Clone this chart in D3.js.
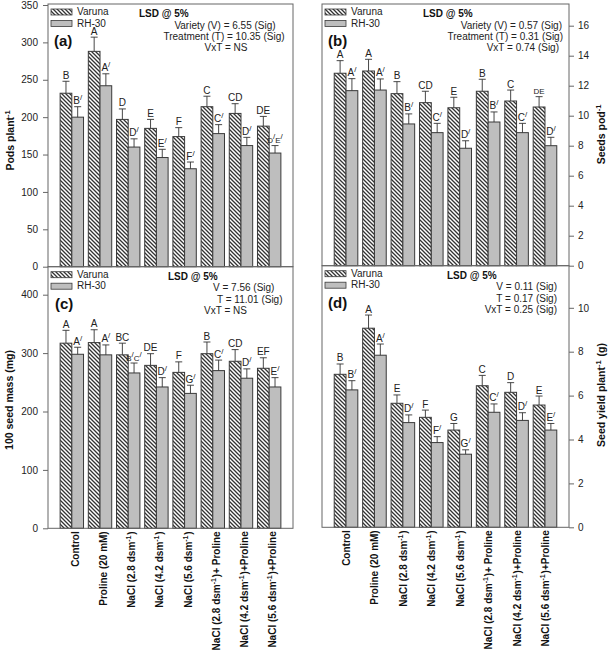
<!DOCTYPE html>
<html>
<head>
<meta charset="utf-8">
<script src="https://cdn.jsdelivr.net/npm/d3@7/dist/d3.min.js"></script>
<style>
  body { margin: 0; background: #fff; }
  svg { font-family: Arial, "Liberation Sans", sans-serif; }
</style>
</head>
<body>
<svg id="chart"></svg>
<script>
const treatments = [
  "Control", "Proline (20 mM)", "NaCl (2.8 dsm^-1)", "NaCl (4.2 dsm^-1)",
  "NaCl (5.6 dsm^-1)", "NaCl (2.8 dsm^-1)+ Proline", "NaCl (4.2 dsm^-1)+Proline",
  "NaCl (5.6 dsm^-1)+Proline"
];
const varieties = ["Varuna", "RH-30"];

// (a) pods per plant
const podsVaruna = [232, 288, 197, 185, 174, 214, 205, 188];
const podsRH = [200, 242, 160, 146, 131, 178, 162, 152];
const podsVarunaErr = [16, 19, 14, 12, 12, 14, 13, 13];
const podsRHErr = [14, 16, 11, 11, 9, 12, 11, 10];
const podsVarunaLetters = ["B", "A", "D", "E", "F", "C", "CD", "DE"];
const podsRHLetters = ["B/", "A/", "D/", "E/", "F/", "C/", "D/", "D/E/"];
const podsTicks = [0, 50, 100, 150, 200, 250, 300, 350];

// (b) seeds per pod
const seedsVaruna = [12.83, 12.98, 11.47, 10.87, 10.53, 11.63, 10.98, 10.58];
const seedsRH = [11.67, 11.71, 9.45, 8.87, 7.83, 9.58, 8.87, 8.0];
const seedsVarunaErr = [0.84, 0.78, 0.8, 0.76, 0.7, 0.8, 0.73, 0.69];
const seedsRHErr = [0.8, 0.74, 0.67, 0.62, 0.5, 0.67, 0.62, 0.56];
const seedsVarunaLetters = ["A", "A", "B", "CD", "E", "B", "C", "DE"];
const seedsRHLetters = ["A/", "A/", "B/", "C/", "D/", "B/", "C/", "D/"];
const seedsTicks = [0, 2, 4, 6, 8, 10, 12, 14, 16];

// (c) 100 seed mass
const massVaruna = [317, 318, 297, 279, 267, 299, 286, 274];
const massRH = [298, 297, 266, 242, 231, 270, 257, 242];
const massVarunaErr = [22, 22, 20, 20, 18, 20, 20, 18];
const massRHErr = [12, 17, 17, 16, 14, 18, 16, 16];
const massVarunaLetters = ["A", "A", "BC", "DE", "F", "B", "CD", "EF"];
const massRHLetters = ["A/", "A/", "B/C/", "D/", "G/", "C/", "D/", "E/"];
const massTicks = [0, 100, 200, 300, 400];

// (d) seed yield per plant
const yieldVaruna = [6.97, 9.07, 5.65, 5.01, 4.43, 6.45, 6.15, 5.57];
const yieldRH = [6.26, 7.84, 4.77, 3.86, 3.33, 5.24, 4.87, 4.43];
const yieldVarunaErr = [0.47, 0.6, 0.38, 0.33, 0.3, 0.47, 0.44, 0.41];
const yieldRHErr = [0.42, 0.51, 0.35, 0.27, 0.2, 0.38, 0.35, 0.3];
const yieldVarunaLetters = ["B", "A", "E", "F", "G", "C", "D", "E"];
const yieldRHLetters = ["B/", "A/", "D/", "F/", "G/", "C/", "D/", "E/"];
const yieldTicks = [0, 2, 4, 6, 8, 10];

const svg = d3.select("#chart").attr("width", 609).attr("height", 652);

const defs = svg.append("defs");
const hatch = defs.append("pattern")
  .attr("id", "hatch")
  .attr("patternUnits", "userSpaceOnUse")
  .attr("width", 4)
  .attr("height", 4);
hatch.append("rect").attr("width", 4).attr("height", 4).attr("fill", "#fff");
hatch.append("path")
  .attr("d", "M0,0 L4,4 M-1,3 L1,5 M3,-1 L5,1")
  .attr("stroke", "#333")
  .attr("stroke-width", 1.3);

const fills = { "Varuna": "url(#hatch)", "RH-30": "#bebebe" };

// text with ^-1 superscripts
function richText(sel, str, supSize) {
  const parts = str.split("^-1");
  parts.forEach((p, i) => {
    if (p) sel.append("tspan").text(p);
    if (i < parts.length - 1) {
      sel.append("tspan").attr("dy", -4).attr("font-size", supSize).text("-1");
      sel.append("tspan").attr("dy", 4).text("\u200a");
    }
  });
}

// letter with raised "/" marks
function letterText(sel, str) {
  let raised = false;
  for (const ch of str) {
    if (ch === "/") {
      sel.append("tspan").attr("dy", raised ? 0 : -4).attr("font-size", 8).text("/");
      raised = true;
    } else {
      sel.append("tspan").attr("dy", raised ? 4 : 0).text(ch);
      raised = false;
    }
  }
}

function drawPanel(p) {
  const g = svg.append("g");
  const x = d3.scaleBand().domain(treatments).range(p.xr).paddingInner(0.17).paddingOuter(0.43);
  const sub = d3.scaleBand().domain(varieties).range([0, x.bandwidth()]);
  const y = d3.scaleLinear().domain(p.domain).range(p.yr);

  const series = [
    { name: "Varuna", values: p.v, err: p.vErr, letters: p.vLetters },
    { name: "RH-30", values: p.rh, err: p.rhErr, letters: p.rhLetters }
  ];

  series.forEach((s) => {
    const rows = treatments.map((t, i) => ({ t, v: s.values[i], e: s.err[i], l: s.letters[i] }));
    const sg = g.append("g");
    sg.selectAll("rect")
      .data(rows)
      .enter()
      .append("rect")
      .attr("x", (d) => x(d.t) + sub(s.name))
      .attr("y", (d) => y(d.v))
      .attr("width", sub.bandwidth())
      .attr("height", (d) => y(p.domain[0]) - y(d.v))
      .attr("fill", fills[s.name])
      .attr("stroke", "#3a3a3a")
      .attr("stroke-width", 1);

    sg.selectAll("path.err")
      .data(rows)
      .enter()
      .append("path")
      .attr("class", "err")
      .attr("d", (d) => {
        const cx = x(d.t) + sub(s.name) + sub.bandwidth() / 2;
        const top = y(d.v + d.e);
        return `M${cx},${y(d.v)} V${top} M${cx - 3.5},${top} H${cx + 3.5}`;
      })
      .attr("fill", "none")
      .attr("stroke", "#333")
      .attr("stroke-width", 0.9);

    sg.selectAll("text.letter")
      .data(rows)
      .enter()
      .append("text")
      .attr("class", "letter")
      .attr("x", (d) => x(d.t) + sub(s.name) + sub.bandwidth() / 2)
      .attr("y", (d) => y(d.v + d.e) - 2.5)
      .attr("text-anchor", "middle")
      .attr("font-size", (d, i) => (p.small.includes(s.name + i) ? 8 : 10))
      .attr("fill", "#222")
      .each(function (d) { letterText(d3.select(this), d.l); });
  });

  // frame
  g.append("rect")
    .attr("x", p.xr[0])
    .attr("y", p.top)
    .attr("width", p.xr[1] - p.xr[0])
    .attr("height", y(p.domain[0]) - p.top)
    .attr("fill", "none")
    .attr("stroke", "#666")
    .attr("stroke-width", 1);

  const axis = p.side === "left"
    ? d3.axisLeft(y).tickValues(p.ticks).tickSize(5).tickPadding(5)
    : d3.axisRight(y).tickValues(p.ticks).tickSize(5).tickPadding(4);
  const ag = g.append("g")
    .attr("transform", `translate(${p.side === "left" ? p.xr[0] : p.xr[1]},0)`)
    .call(axis);
  ag.select(".domain").remove();
  ag.selectAll("line").attr("stroke", "#666");
  ag.selectAll("text").attr("font-size", 10).attr("fill", "#222").attr("font-family", "Arial, 'Liberation Sans', sans-serif");

  // y title
  const title = g.append("text")
    .attr("transform", `translate(${p.titleX},${p.titleY}) rotate(-90)`)
    .attr("text-anchor", "middle")
    .attr("font-size", 10.5)
    .attr("font-weight", "bold")
    .attr("fill", "#111");
  richText(title, p.title, 7.5);

  // panel tag
  g.append("text")
    .attr("x", p.xr[0] + p.tagDx)
    .attr("y", p.top + 42)
    .attr("font-size", 15)
    .attr("font-weight", "bold")
    .attr("fill", "#111")
    .text(p.tag);

  // legend
  varieties.forEach((v, i) => {
    const ly = p.top + 5 + i * 11.5;
    g.append("rect")
      .attr("x", p.xr[0] + p.legDx)
      .attr("y", ly)
      .attr("width", 21)
      .attr("height", 6)
      .attr("fill", fills[v])
      .attr("stroke", "#3a3a3a")
      .attr("stroke-width", 0.8);
    g.append("text")
      .attr("x", p.xr[0] + p.legDx + 26)
      .attr("y", ly + 6)
      .attr("font-size", 10)
      .attr("fill", "#222")
      .text(v);
  });

  // LSD notes
  g.append("text")
    .attr("x", p.lsdX)
    .attr("y", p.top + 13)
    .attr("font-size", 10)
    .attr("font-weight", "bold")
    .attr("fill", "#111")
    .text("LSD @ 5%");
  p.notes.forEach((n, i) => {
    g.append("text")
      .attr("x", p.noteX[i])
      .attr("y", p.top + 24.5 + i * 11.3)
      .attr("text-anchor", p.noteAnchor)
      .attr("font-size", 10)
      .attr("fill", "#222")
      .text(n);
  });

  // category labels under lower panels
  if (p.xLabels) {
    g.selectAll("text.cat")
      .data(treatments)
      .enter()
      .append("text")
      .attr("class", "cat")
      .attr("transform", (d) => `translate(${x(d) + x.bandwidth() / 2 + p.labelDx},${y(p.domain[0]) + 3}) rotate(-90)`)
      .attr("text-anchor", "end")
      .attr("font-size", 10)
      .attr("font-weight", "bold")
      .attr("fill", "#111")
      .each(function (d) { richText(d3.select(this), d, 7); });
  }
}

drawPanel({
  tag: "(a)", tagDx: 6, legDx: 3, side: "left",
  xr: [48, 293], top: 4, yr: [266.7, 5], domain: [0, 350], ticks: podsTicks,
  v: podsVaruna, rh: podsRH, vErr: podsVarunaErr, rhErr: podsRHErr,
  vLetters: podsVarunaLetters, rhLetters: podsRHLetters, small: ["RH-307"],
  title: "Pods plant^-1", titleX: 14, titleY: 140,
  lsdX: 139, noteAnchor: "middle", noteX: [225, 224, 226],
  notes: ["Variety (V) = 6.55 (Sig)", "Treatment (T) = 10.35 (Sig)", "VxT = NS"]
});

drawPanel({
  tag: "(b)", tagDx: 6, legDx: 3, side: "right",
  xr: [322, 569], top: 4, yr: [265.7, 3.2], domain: [0, 17.5], ticks: seedsTicks,
  v: seedsVaruna, rh: seedsRH, vErr: seedsVarunaErr, rhErr: seedsRHErr,
  vLetters: seedsVarunaLetters, rhLetters: seedsRHLetters, small: ["Varuna7"],
  title: "Seeds pod^-1", titleX: 605, titleY: 134,
  lsdX: 423, noteAnchor: "end", noteX: [562, 563, 559],
  notes: ["Variety (V) = 0.57 (Sig)", "Treatment (T) = 0.31 (Sig)", "VxT = 0.74 (Sig)"]
});

drawPanel({
  tag: "(c)", tagDx: 7, legDx: 3, side: "left",
  xr: [48, 293], top: 266.7, yr: [528.3, 265.5], domain: [0, 450], ticks: massTicks,
  v: massVaruna, rh: massRH, vErr: massVarunaErr, rhErr: massRHErr,
  vLetters: massVarunaLetters, rhLetters: massRHLetters, small: ["RH-302"],
  title: "100 seed mass (mg)", titleX: 13, titleY: 400,
  lsdX: 168, noteAnchor: "start", noteX: [213, 217, 204],
  notes: ["V = 7.56 (Sig)", "T = 11.01 (Sig)", "VxT = NS"],
  xLabels: true, labelDx: 7
});

drawPanel({
  tag: "(d)", tagDx: 6, legDx: 3, side: "right",
  xr: [322, 569], top: 265.7, yr: [527.3, 263.9], domain: [0, 12], ticks: yieldTicks,
  v: yieldVaruna, rh: yieldRH, vErr: yieldVarunaErr, rhErr: yieldRHErr,
  vLetters: yieldVarunaLetters, rhLetters: yieldRHLetters, small: [],
  title: "Seed yield plant^-1 (g)", titleX: 605, titleY: 395,
  lsdX: 447, noteAnchor: "end", noteX: [557, 557, 557],
  notes: ["V = 0.11 (Sig)", "T = 0.17 (Sig)", "VxT = 0.25 (Sig)"],
  xLabels: true, labelDx: 4
});
</script>
</body>
</html>
